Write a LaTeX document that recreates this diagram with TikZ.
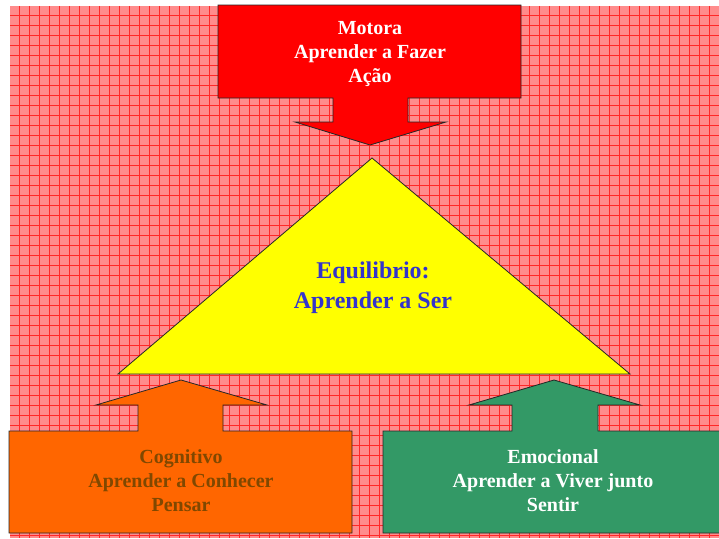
\documentclass[tikz,border=0pt]{standalone}
\usepackage{fontspec}
\setmainfont{Liberation Serif}
\usepackage{tikz}
\usetikzlibrary{positioning, calc}
\definecolor{BgPink}{RGB}{255,140,140}
\definecolor{GridRed}{RGB}{255,40,40}
\definecolor{MotoraRed}{RGB}{255,0,0}
\definecolor{SerYellow}{RGB}{255,255,0}
\definecolor{SerBlue}{RGB}{51,51,204}
\definecolor{PensarOrange}{RGB}{255,102,0}
\definecolor{PensarBrown}{RGB}{128,72,0}
\definecolor{SentirGreen}{RGB}{51,153,102}

\begin{document}
\begin{tikzpicture}[x=1pt, y=-1pt,
		gridline/.style={fill=GridRed},
		blockarrow/.style={draw=black!85, line width=0.8pt, line join=miter},
		label text/.style={align=center, font=\bfseries\fontsize{20}{24}\selectfont},
		]
	\useasboundingbox (0,0) rectangle (719,538);
	\fill[BgPink] (10,6) rectangle (719,538);
	\foreach \x in {19,29,...,719}
		\path[gridline] (\x,6) rectangle (\x+1,538);
	\foreach \y in {15,25,...,538}
		\path[gridline] (10,\y) rectangle (719,\y+1);

	\draw[blockarrow, fill=MotoraRed] (218,5) -- (521,5) -- (521,98) -- (408,98) -- (408,122) -- (446,122)
		-- (370,145) -- (295,122) -- (333,122) -- (333,98) -- (218,98) -- cycle;
	\draw[blockarrow, fill=SerYellow] (372,158) -- (630,374) -- (118,374) -- cycle;
	\draw[blockarrow, fill=PensarOrange] (9,431) -- (138,431) -- (138,405) -- (96,405) -- (181,380)
		-- (267,405) -- (223,405) -- (223,431) -- (352,431) -- (352,533) -- (9,533) -- cycle;
	\draw[blockarrow, fill=SentirGreen] (383,431) -- (512,431) -- (512,405) -- (469,405) -- (554,380)
		-- (640,405) -- (598,405) -- (598,431) -- (722,431) -- (722,533) -- (383,533) -- cycle;

	\node[label text, text=white] (motora) at (370,54) {Motora\\Aprender a Fazer\\Ação};
	\node[label text, text=SerBlue, font=\bfseries\fontsize{24}{30}\selectfont] (ser) at (373,288) {Equilibrio:\\Aprender a Ser};
	\node[label text, text=PensarBrown] (cognitivo) at (181,481) {Cognitivo\\Aprender a Conhecer\\Pensar};
	\node[label text, text=white] (emocional) at (553,481) {Emocional\\Aprender a Viver junto\\Sentir};
\end{tikzpicture}
\end{document}
